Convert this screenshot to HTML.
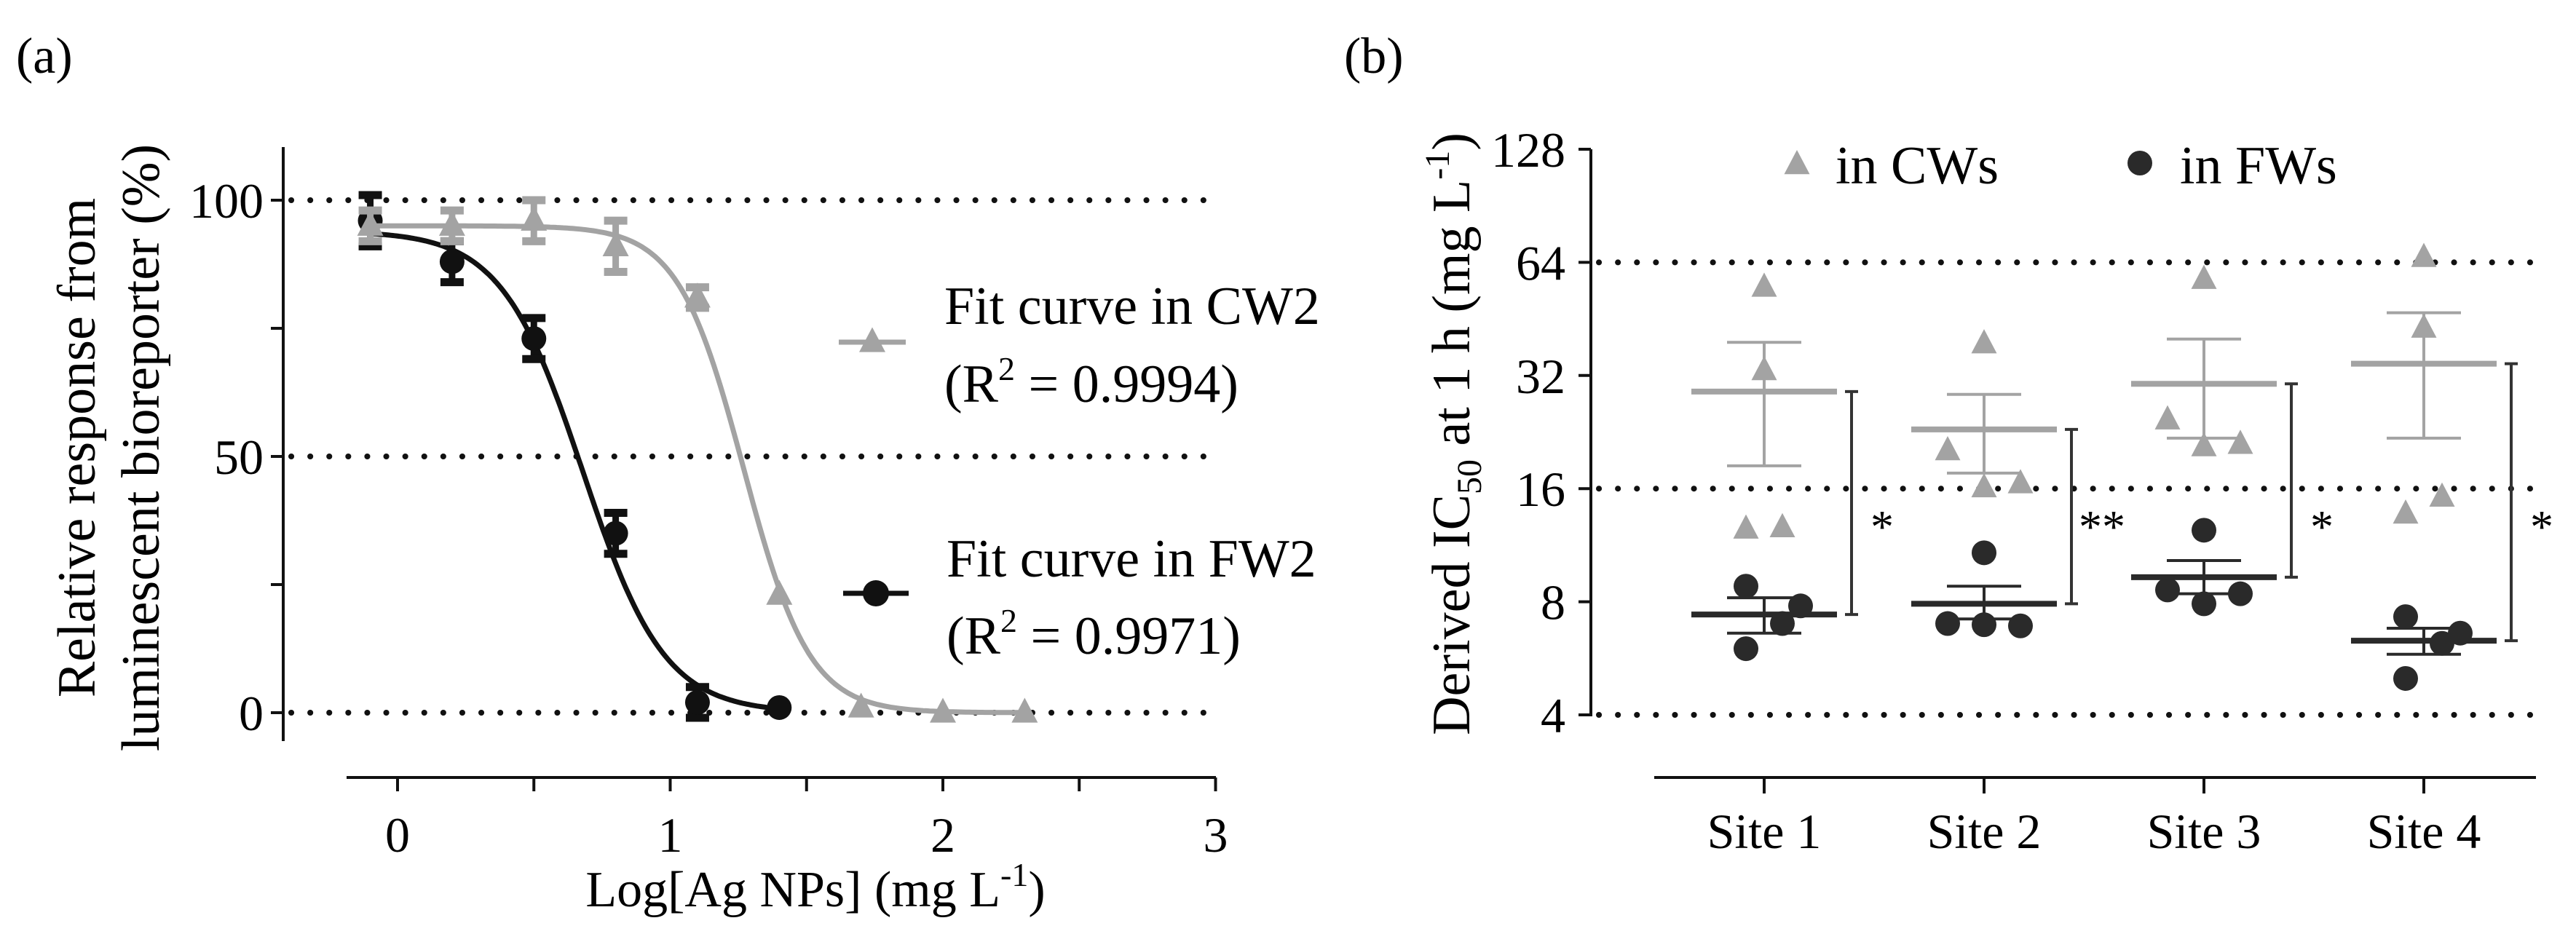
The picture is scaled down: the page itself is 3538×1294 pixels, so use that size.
<!DOCTYPE html>
<html><head><meta charset="utf-8"><style>
html,body{margin:0;padding:0;background:#fff;}
svg{display:block;}
svg text{font-family:"Liberation Serif","Times New Roman",serif;}
</style></head><body>
<svg id="fig" width="3538" height="1294" viewBox="0 0 3538 1294" xmlns="http://www.w3.org/2000/svg">
<rect width="3538" height="1294" fill="#fff"/>
<g id="pa"></g>
<g id="pb"></g>
</svg>
<script>
// ---- Panel (a) data ----
const aX = [-0.1, 0.2, 0.5, 0.8, 1.1, 1.4, 1.7, 2.0, 2.3];
const aCW = [95, 95, 96, 91, 81, 23, 1, 0, 0];
const aCWerr = [3, 3, 4, 5, 2, 0, 0, 0, 0];
const aFWx = [-0.1, 0.2, 0.5, 0.8, 1.1, 1.4];
const aFW = [96, 88, 73, 35, 2, 1];
const aFWerr = [5, 4, 4, 4, 3, 0];
const aXTicks = [0, 1, 2, 3];
const aYTicks = [0, 50, 100];
const cwFit = {top: 95, bottom: 0, logIC50: 1.27, hill: 3.6};
const fwFit = {top: 94, bottom: 0, logIC50: 0.68, hill: 2.9};

// ---- Panel (b) data ----
const bSites = ["Site 1", "Site 2", "Site 3", "Site 4"];
const bCW = [[55, 33, 12.5, 12.6], [38.9, 20.2, 16.1, 16.5], [57.7, 24.4, 20.7, 21.0], [66, 42.8, 13.7, 15.2]];
const bCWjit = [[0, 0, -1, 1], [0, -2, 0, 2], [0, -2, 0, 2], [0, 0, -1, 1]];
const bFW = [[8.8, 6.0, 7.0, 7.8], [10.8, 7.0, 6.95, 6.9], [12.4, 8.6, 7.9, 8.4], [7.3, 5.0, 6.2, 6.6]];
const bFWjit = [[-1, -1, 1, 2], [0, -2, 0, 2], [0, -2, 0, 2], [-1, -1, 1, 2]];
const bCWmean = [29, 23, 30.4, 34.4];
const bCWlo = [18.4, 17.6, 21.8, 21.8];
const bCWhi = [39.2, 28.5, 40, 47];
const bFWmean = [7.4, 7.9, 9.3, 6.3];
const bFWlo = [6.6, 7.2, 8.4, 5.8];
const bFWhi = [8.2, 8.8, 10.3, 6.8];
const bSig = ["*", "**", "*", "*"];
const bYTicks = [4, 8, 16, 32, 64, 128];

const NS = "http://www.w3.org/2000/svg";
function mk(parent, tag, attrs, text) {
  const e = document.createElementNS(NS, tag);
  for (const k in attrs) e.setAttribute(k, attrs[k]);
  if (tag === 'text') e.setAttribute('font-family', '"Liberation Serif", serif');
  if (text !== undefined) e.textContent = text;
  parent.appendChild(e);
  return e;
}
const GRAY = "#a3a3a3", BLK = "#111";
const dot = {stroke: "#111", "stroke-width": 8, "stroke-linecap": "round", "stroke-dasharray": "0.1 26"};

// ================= Panel A =================
const pa = document.getElementById('pa');
const ax = v => 546 + v * 374.5;
const ay = v => 979 - v * 7.04;

let t = mk(pa, 'text', {x: 22, y: 100, 'font-size': 70}, '(a)');
 

aYTicks.forEach(v => {
  const l = mk(pa, 'line', Object.assign({x1: 400, x2: 1665, y1: ay(v), y2: ay(v)}, dot));
   
});
let yl = mk(pa, 'line', {x1: 389, x2: 389, y1: 202, y2: 1018, stroke: BLK, 'stroke-width': 4});
 
[0, 25, 50, 75, 100].forEach(v => {
  const tk = mk(pa, 'line', {x1: 372, x2: 389, y1: ay(v), y2: ay(v), stroke: BLK, 'stroke-width': 4});
   
});
aYTicks.forEach(v => {
  const tl = mk(pa, 'text', {x: 362, y: ay(v) + 24, 'font-size': 68, 'text-anchor': 'end'}, String(v));
   
});
let xl = mk(pa, 'line', {x1: 476, x2: 1670, y1: 1068, y2: 1068, stroke: BLK, 'stroke-width': 4});
 
[0, 0.5, 1, 1.5, 2, 2.5, 3].forEach(v => {
  const tk = mk(pa, 'line', {x1: ax(v), x2: ax(v), y1: 1068, y2: 1087, stroke: BLK, 'stroke-width': 4});
   
});
aXTicks.forEach(v => {
  const tl = mk(pa, 'text', {x: ax(v), y: 1170, 'font-size': 68, 'text-anchor': 'middle'}, String(v));
   
});
let xt = mk(pa, 'text', {x: 1120, y: 1245, 'font-size': 70, 'text-anchor': 'middle'});
 
mk(xt, 'tspan', {}, 'Log[Ag NPs] (mg L');
mk(xt, 'tspan', {dy: -28, 'font-size': 46}, '-1');
mk(xt, 'tspan', {dy: 28}, ')');
let yt = mk(pa, 'text', {transform: 'translate(130,615) rotate(-90)', 'font-size': 74, 'text-anchor': 'middle'}, 'Relative response from');
 
let yt2 = mk(pa, 'text', {transform: 'translate(218,615) rotate(-90)', 'font-size': 74, 'text-anchor': 'middle'}, 'luminescent bioreporter (%)');
 

function fitPath(p, x0, x1) {
  let d = '';
  for (let i = 0; i <= 200; i++) {
    const x = x0 + (x1 - x0) * i / 200;
    const y = p.bottom + (p.top - p.bottom) / (1 + Math.pow(10, (x - p.logIC50) * p.hill));
    d += (i ? 'L' : 'M') + ax(x).toFixed(1) + ',' + ay(y).toFixed(1);
  }
  return d;
}
function tri(g, cx, cy, s, fill) {
  const h = s * 0.95;
  return mk(g, 'polygon', {points: `${cx},${cy - h * 0.6} ${cx - s / 2},${cy + h * 0.4} ${cx + s / 2},${cy + h * 0.4}`, fill: fill});
}
function errA(g, x, y, e, col) {
  if (e <= 0) return;
  mk(g, 'line', {x1: ax(x), x2: ax(x), y1: ay(y + e), y2: ay(y - e), stroke: col, 'stroke-width': 9});
  mk(g, 'line', {x1: ax(x) - 16, x2: ax(x) + 16, y1: ay(y + e), y2: ay(y + e), stroke: col, 'stroke-width': 11});
  mk(g, 'line', {x1: ax(x) - 16, x2: ax(x) + 16, y1: ay(y - e), y2: ay(y - e), stroke: col, 'stroke-width': 11});
}
// FW series
let gFW = mk(pa, 'g', {});
 
let fwc = mk(gFW, 'path', {d: fitPath(fwFit, -0.1, 1.4), fill: 'none', stroke: BLK, 'stroke-width': 7});
 
aFWx.forEach((x, i) => {
  errA(gFW, x, aFW[i], aFWerr[i], BLK);
  const c = mk(gFW, 'circle', {cx: ax(x), cy: ay(aFW[i]), r: 17, fill: BLK});
   
});
// CW series
let gCW = mk(pa, 'g', {});
 
let cwc = mk(gCW, 'path', {d: fitPath(cwFit, -0.1, 2.3), fill: 'none', stroke: GRAY, 'stroke-width': 7});
 
aX.forEach((x, i) => {
  errA(gCW, x, aCW[i], aCWerr[i], GRAY);
  const p = tri(gCW, ax(x), ay(aCW[i]), 36, GRAY);
   
});
// legend a
let lg = mk(pa, 'g', {});
 
mk(lg, 'line', {x1: 1152, x2: 1244, y1: 470, y2: 470, stroke: GRAY, 'stroke-width': 7});
tri(lg, 1198, 470, 36, GRAY);
mk(lg, 'text', {x: 1297, y: 445, 'font-size': 74}, 'Fit curve in CW2');
let r1 = mk(lg, 'text', {x: 1297, y: 552, 'font-size': 74});
mk(r1, 'tspan', {}, '(R'); mk(r1, 'tspan', {dy: -30, 'font-size': 46}, '2'); mk(r1, 'tspan', {dy: 30}, ' = 0.9994)');
mk(lg, 'line', {x1: 1158, x2: 1248, y1: 815, y2: 815, stroke: BLK, 'stroke-width': 7});
mk(lg, 'circle', {cx: 1203, cy: 815, r: 18, fill: BLK});
mk(lg, 'text', {x: 1300, y: 792, 'font-size': 74}, 'Fit curve in FW2');
let r2 = mk(lg, 'text', {x: 1300, y: 898, 'font-size': 74});
mk(r2, 'tspan', {}, '(R'); mk(r2, 'tspan', {dy: -30, 'font-size': 46}, '2'); mk(r2, 'tspan', {dy: 30}, ' = 0.9971)');

// ================= Panel B =================
const pb = document.getElementById('pb');
const bx = i => 2423 + i * 302;
const by = v => 982 - Math.log2(v / 4) * 155.4;
const J = 25;

let tb = mk(pb, 'text', {x: 1846, y: 100, 'font-size': 70}, '(b)');
 
[4, 16, 64].forEach(v => {
  const l = mk(pb, 'line', Object.assign({x1: 2196, x2: 3483, y1: by(v), y2: by(v)}, dot));
   
});
let byl = mk(pb, 'line', {x1: 2185, x2: 2185, y1: 205, y2: 984, stroke: BLK, 'stroke-width': 4});
 
bYTicks.forEach(v => {
  const tk = mk(pb, 'line', {x1: 2168, x2: 2185, y1: by(v), y2: by(v), stroke: BLK, 'stroke-width': 4});
   
  const tl = mk(pb, 'text', {x: 2150, y: by(v) + 24, 'font-size': 68, 'text-anchor': 'end'}, String(v));
   
});
let bxl = mk(pb, 'line', {x1: 2272, x2: 3483, y1: 1068, y2: 1068, stroke: BLK, 'stroke-width': 4});
 
bSites.forEach((s, i) => {
  const tk = mk(pb, 'line', {x1: bx(i), x2: bx(i), y1: 1068, y2: 1090, stroke: BLK, 'stroke-width': 4});
   
  const tl = mk(pb, 'text', {x: bx(i), y: 1165, 'font-size': 68, 'text-anchor': 'middle'}, s);
   
});
let byt = mk(pb, 'text', {transform: 'translate(2018,596) rotate(-90)', 'font-size': 74, 'text-anchor': 'middle'});
 
mk(byt, 'tspan', {}, 'Derived IC'); mk(byt, 'tspan', {dy: 16, 'font-size': 48}, '50');
mk(byt, 'tspan', {dy: -16}, ' at 1 h (mg L'); mk(byt, 'tspan', {dy: -28, 'font-size': 48}, '-1');
mk(byt, 'tspan', {dy: 28}, ')');

function meanErr(g, cx, m, lo, hi, col) {
  mk(g, 'line', {x1: cx, x2: cx, y1: by(hi), y2: by(lo), stroke: col, 'stroke-width': 4});
  mk(g, 'line', {x1: cx - 51, x2: cx + 51, y1: by(hi), y2: by(hi), stroke: col, 'stroke-width': 4});
  mk(g, 'line', {x1: cx - 51, x2: cx + 51, y1: by(lo), y2: by(lo), stroke: col, 'stroke-width': 4});
  mk(g, 'line', {x1: cx - 100, x2: cx + 100, y1: by(m), y2: by(m), stroke: col, 'stroke-width': 8});
}
bSites.forEach((s, i) => {
  const g = mk(pb, 'g', {});
   
  meanErr(g, bx(i), bCWmean[i], bCWlo[i], bCWhi[i], GRAY);
  meanErr(g, bx(i), bFWmean[i], bFWlo[i], bFWhi[i], '#2a2a2a');
  bCW[i].forEach((v, k) => {
    const p = tri(g, bx(i) + bCWjit[i][k] * J, by(v), 35, GRAY);
     
  });
  bFW[i].forEach((v, k) => {
    const c = mk(g, 'circle', {cx: bx(i) + bFWjit[i][k] * J, cy: by(v), r: 17, fill: '#2a2a2a'});
     
  });
  const sx = bx(i) + 120;
  const br = mk(g, 'path', {d: `M${sx},${by(bCWmean[i])}V${by(bFWmean[i])}M${sx - 9},${by(bCWmean[i])}H${sx + 9}M${sx - 9},${by(bFWmean[i])}H${sx + 9}`, stroke: '#333', 'stroke-width': 4, fill: 'none'});
   
  const st = mk(g, 'text', {x: sx + 42, y: 745, 'font-size': 64, 'text-anchor': 'middle'}, bSig[i]);
   
});
let lgb = mk(pb, 'g', {});
 
tri(lgb, 2468, 226, 35, GRAY);
mk(lgb, 'text', {x: 2521, y: 252, 'font-size': 74}, 'in CWs');
mk(lgb, 'circle', {cx: 2939, cy: 224, r: 17, fill: '#2a2a2a'});
mk(lgb, 'text', {x: 2994, y: 252, 'font-size': 74}, 'in FWs');
</script>
</body></html>
